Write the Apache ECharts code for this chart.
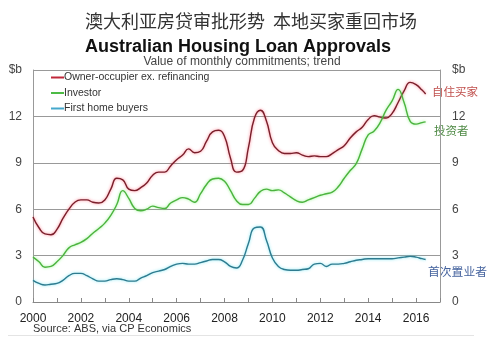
<!DOCTYPE html>
<html><head><meta charset="utf-8">
<script src="https://cdn.jsdelivr.net/npm/echarts@6/dist/echarts.min.js"></script>
<style>html,body{margin:0;padding:0;background:#fff}#c{width:494px;height:344px}</style>
</head><body><div id="c"></div>
<script>
var dates = [2000,2000.25,2000.5,2000.75,2001,2001.25,2001.5,2001.75,2002,2002.25,2002.5,2002.75,
2003,2003.25,2003.5,2003.75,2004,2004.25,2004.5,2004.75,2005,2005.25,2005.5,2005.75,
2006,2006.25,2006.5,2006.75,2007,2007.25,2007.5,2007.75,2008,2008.25,2008.5,2008.75,
2009,2009.25,2009.5,2009.75,2010,2010.25,2010.5,2010.75,2011,2011.25,2011.5,2011.75,
2012,2012.25,2012.5,2012.75,2013,2013.25,2013.5,2013.75,2014,2014.25,2014.5,2014.75,
2015,2015.25,2015.5,2015.75,2016,2016.25,2016.4];
var ownerOccupier = [5.5,4.8,4.4,4.35,4.7,5.4,6.0,6.45,6.6,6.6,6.45,6.4,
6.6,7.3,8.0,7.9,7.3,7.2,7.4,7.7,8.2,8.4,8.4,8.8,
9.2,9.5,9.9,9.65,9.75,10.4,11.0,11.1,10.7,9.3,8.4,8.5,
10.0,11.9,12.4,11.7,10.3,9.8,9.6,9.6,9.65,9.5,9.4,9.45,
9.4,9.4,9.6,9.85,10.1,10.6,11.0,11.3,11.8,12.05,11.95,11.9,
12.2,12.9,13.65,14.2,14.05,13.7,13.45];
var investor = [2.9,2.6,2.25,2.3,2.6,3.0,3.5,3.7,3.85,4.1,4.45,4.75,
5.1,5.6,6.3,7.2,6.7,6.05,5.9,6.0,6.2,6.1,6.05,6.4,
6.6,6.75,6.65,6.45,7.0,7.6,7.95,8.0,7.8,7.2,6.55,6.3,
6.3,6.7,7.15,7.3,7.2,7.25,7.05,6.8,6.55,6.45,6.6,6.75,
6.9,7.0,7.1,7.45,8.0,8.5,8.95,9.9,10.8,11.05,11.6,12.4,
13.0,13.75,12.9,11.7,11.5,11.6,11.65];
var firstHome = [1.4,1.2,1.1,1.15,1.2,1.4,1.7,1.85,1.85,1.7,1.5,1.35,
1.35,1.45,1.5,1.45,1.35,1.35,1.55,1.7,1.9,2.0,2.1,2.3,
2.45,2.5,2.45,2.45,2.55,2.65,2.75,2.75,2.6,2.3,2.2,2.7,
3.8,4.8,4.85,4.0,2.85,2.3,2.1,2.05,2.05,2.1,2.15,2.45,
2.5,2.3,2.45,2.45,2.5,2.6,2.7,2.75,2.8,2.8,2.8,2.8,
2.8,2.85,2.9,2.95,2.9,2.8,2.75];
var seriesNames = ['Owner-occupier ex. refinancing','Investor','First home buyers'];
var yTicks = ['0','3','6','9','12','$b'];
var xLabelYears = [2000,2002,2004,2006,2008,2010,2012,2014,2016];

function pairs(v){ return dates.map(function(d,i){ return [d, v[i]]; }); }
var chart = echarts.init(document.getElementById('c'), null, {renderer:'canvas'});
var yLab = function(v){ return yTicks[Math.round(v/3)]; };
var font = 'Liberation Sans, Arial, sans-serif';
var legendColors = ['#c0283a','#4dbb45','#45a8cc'];
function mk(name, data, core, glow){
  return {name:name, type:'line', data:pairs(data), smooth:0.5, symbol:'none',
    lineStyle:{color:core, width:1.4, shadowColor:glow, shadowBlur:3},
    itemStyle:{color:core}, z:3};
}
var legendGraphics = [];
seriesNames.forEach(function(n,i){
  var y = 77.5 + i*15.5;
  legendGraphics.push({type:'rect', shape:{x:51, y:y-1, width:13, height:2}, style:{fill:legendColors[i]}});
  legendGraphics.push({type:'text', left:64, top:y-5.5, style:{text:n, fontFamily:font, fontSize:10.5, fill:'#333'}});
});
chart.setOption({
  animation:false,
  title:[
    {text:'澳大利亚房贷审批形势  本地买家重回市场', left:246, top:7, textAlign:'center',
      textStyle:{fontFamily:'Noto Sans CJK SC', fontSize:18, fontWeight:'normal', color:'#333'}},
    {text:'Australian Housing Loan Approvals', left:233, top:33, textAlign:'center',
      textStyle:{fontFamily:font, fontSize:18, fontWeight:'bold', color:'#111'}},
    {text:'Value of monthly commitments; trend', left:237, top:51, textAlign:'center',
      textStyle:{fontFamily:font, fontSize:12, fontWeight:'normal', color:'#444'}}
  ],
  grid:{left:33, right:54, top:70, bottom:42, show:false},
  xAxis:{type:'value', min:2000, max:2017, interval:1,
    axisLine:{show:true, lineStyle:{color:'#888', width:1}},
    axisTick:{show:true, inside:true, length:4, lineStyle:{color:'#888'}},
    splitLine:{show:false},
    axisLabel:{margin:11, fontFamily:font, fontSize:12, color:'#222',
      formatter:function(v){ return xLabelYears.indexOf(v)>=0 ? String(v) : ''; }}},
  yAxis:[
    {type:'value', min:0, max:15, interval:3, position:'left',
      axisLine:{show:true, lineStyle:{color:'#999'}}, axisTick:{show:false},
      splitLine:{show:true, lineStyle:{color:'#999', width:1}},
      axisLabel:{margin:11, fontFamily:font, fontSize:12, color:'#444', formatter:yLab}},
    {type:'value', min:0, max:15, interval:3, position:'right',
      axisLine:{show:true, lineStyle:{color:'#999'}}, axisTick:{show:false},
      splitLine:{show:false},
      axisLabel:{margin:12, fontFamily:font, fontSize:12, color:'#444', formatter:yLab}}
  ],
  series:[
    mk(seriesNames[0], ownerOccupier, '#7a1f2b', 'rgba(255,90,110,0.8)'),
    mk(seriesNames[1], investor, '#4cb33f', 'rgba(120,240,110,0.8)'),
    mk(seriesNames[2], firstHome, '#2e7b8f', 'rgba(90,225,240,0.8)')
  ],
  graphic:legendGraphics.concat([
    {type:'text', left:432, top:86, style:{text:'自住买家', fontFamily:'Noto Sans CJK SC', fontSize:11.5, fill:'#c0504d'}},
    {type:'text', left:434, top:125, style:{text:'投资者', fontFamily:'Noto Sans CJK SC', fontSize:11.5, fill:'#4f8a45'}},
    {type:'text', left:428, top:266, style:{text:'首次置业者', fontFamily:'Noto Sans CJK SC', fontSize:11.8, fill:'#45639e'}},
    {type:'text', left:33, top:323, style:{text:'Source: ABS, via CP Economics', fontFamily:font, fontSize:11, fill:'#333'}},
    {type:'rect', shape:{x:8, y:335, width:466, height:1}, style:{fill:'#e4e4e4'}}
  ])
});
</script></body></html>
